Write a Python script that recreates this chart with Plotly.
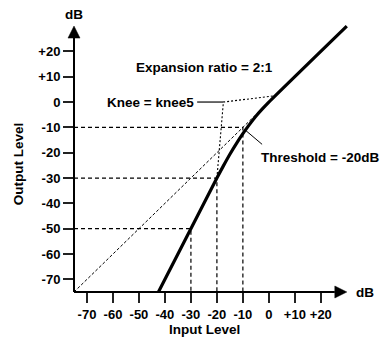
import plotly.graph_objects as go

# Expander transfer curve (input dB -> output dB), soft knee between -20 and 0 dB
curve_in = [-42.5, -20, -17.5, -15, -12.5, -10, -7.5, -5, -2.5, 0, 30]
curve_out = [-75, -30, -25.2, -20.6, -16.4, -12.5, -8.9, -5.6, -2.7, 0, 30]

# Reference (1:1) diagonal
unity_in = [-75, -4]
unity_out = [-75, -4]

# Dashed read-off guides: input level -> output level
guide_in = [-30, -20, -10]
guide_out = [-50, -30, -10]

# Knee marker: corner point and the two knee ends it points to
knee_corner = (-17.5, 0)
knee_lower = (-20, -30)
knee_upper = (2.5, 2.5)
knee_leader_x = [-27.6, -17.5]

# Threshold pointer line
thresh_ptr_x = [-9.4, -2.6]
thresh_ptr_y = [-10.8, -16.7]

tick_vals = [-70, -60, -50, -40, -30, -20, -10, 0, 10, 20]
tick_text = ["-70", "-60", "-50", "-40", "-30", "-20", "-10", "0", "+10", "+20"]

AX_MIN, AX_MAX = -75, 30
XR = [-75, 32]
YR = [-75, 32]

W, H = 388, 343
ML, MB = 74, 51
PLOT_W = (XR[1] - XR[0]) * 2.6
PLOT_H = (YR[1] - YR[0]) * 2.533
MR = W - ML - PLOT_W
MT = H - MB - PLOT_H

FONT = "Liberation Sans, Arial, Helvetica, sans-serif"


def xp(v):
    return (v - XR[0]) / (XR[1] - XR[0])


def yp(v):
    return (v - YR[0]) / (YR[1] - YR[0])


fig = go.Figure()

# unity diagonal
fig.add_trace(go.Scatter(x=unity_in, y=unity_out, mode="lines",
                         line=dict(color="black", width=1, dash="3px,2px"),
                         hoverinfo="skip"))

# read-off guides
for gi, go_ in zip(guide_in, guide_out):
    fig.add_trace(go.Scatter(x=[AX_MIN, gi, gi], y=[go_, go_, AX_MIN], mode="lines",
                             line=dict(color="black", width=1.2, dash="4px,3px"),
                             hoverinfo="skip"))

# knee marker dotted lines
fig.add_trace(go.Scatter(x=[knee_lower[0], knee_corner[0], knee_upper[0]],
                         y=[knee_lower[1], knee_corner[1], knee_upper[1]],
                         mode="lines",
                         line=dict(color="black", width=1.1, dash="2px,2px"),
                         hoverinfo="skip"))

# transfer curve
fig.add_trace(go.Scatter(x=curve_in, y=curve_out, mode="lines",
                         line=dict(color="black", width=3.2, shape="spline", smoothing=0.6),
                         hoverinfo="skip"))

shapes = []
# knee label leader
shapes.append(dict(type="line", xref="x", yref="y",
                   x0=knee_leader_x[0], y0=knee_corner[1],
                   x1=knee_leader_x[1], y1=knee_corner[1],
                   line=dict(color="#444", width=1.6)))
# threshold pointer
shapes.append(dict(type="line", xref="x", yref="y",
                   x0=thresh_ptr_x[0], y0=thresh_ptr_y[0],
                   x1=thresh_ptr_x[1], y1=thresh_ptr_y[1],
                   line=dict(color="black", width=1)))

# axes with arrowheads (paper coordinates so they are not clipped)
arrow_len_x = 12 / PLOT_W
arrow_half_y = 6 / PLOT_H
arrow_len_y = 12 / PLOT_H
arrow_half_x = 6 / PLOT_W
ox, oy = xp(AX_MIN), yp(AX_MIN)
tx, ty = xp(AX_MAX), yp(AX_MAX)
shapes.append(dict(type="line", xref="paper", yref="paper",
                   x0=ox, y0=oy, x1=tx - arrow_len_x, y1=oy,
                   line=dict(color="black", width=2)))
shapes.append(dict(type="line", xref="paper", yref="paper",
                   x0=ox, y0=oy, x1=ox, y1=ty - arrow_len_y,
                   line=dict(color="black", width=2)))
shapes.append(dict(type="path", xref="paper", yref="paper",
                   path=f"M {tx} {oy} L {tx - arrow_len_x} {oy + arrow_half_y} "
                        f"L {tx - arrow_len_x} {oy - arrow_half_y} Z",
                   fillcolor="black", line=dict(color="black", width=0.5)))
shapes.append(dict(type="path", xref="paper", yref="paper",
                   path=f"M {ox} {ty} L {ox - arrow_half_x} {ty - arrow_len_y} "
                        f"L {ox + arrow_half_x} {ty - arrow_len_y} Z",
                   fillcolor="black", line=dict(color="black", width=0.5)))

txt = dict(family=FONT, size=13.5, color="black", weight="bold")
# (x, y, text, xanchor, angle) in data units; placed through paper coords
labels = [
    (AX_MIN, 34.4, "dB", "center", 0),
    (36.9, AX_MIN, "dB", "center", 0),
    (-24.6, 13.8, "Expansion ratio = 2:1", "center", 0),
    (-28.1, 0, "Knee = knee5", "right", 0),
    (-3.9, -22.0, "Threshold = -20dB", "left", 0),
    (-96.5, -24.5, "Output Level", "center", -90),
    (-24.8, -90, "Input Level", "center", 0),
]
annotations = []
for lx, ly, lt, anc, ang in labels:
    annotations.append(dict(x=xp(lx), y=yp(ly), xref="paper", yref="paper",
                            text=lt, xanchor=anc, yanchor="middle",
                            textangle=ang, showarrow=False, font=txt))

axis_common = dict(
    tickmode="array", tickvals=tick_vals, ticktext=tick_text,
    ticks="outside", ticklen=10, tickwidth=1.5, tickcolor="#222",
    showline=False, showgrid=False, zeroline=False, fixedrange=True,
    tickfont=dict(family=FONT, size=13, color="black", weight="bold"),
)

fig.update_layout(
    width=W, height=H,
    margin=dict(l=ML, r=MR, t=MT, b=MB, pad=0),
    paper_bgcolor="white", plot_bgcolor="white",
    showlegend=False,
    xaxis=dict(range=XR, **axis_common),
    yaxis=dict(range=YR, **axis_common),
    shapes=shapes,
    annotations=annotations,
)

fig.write_html("out.html", config={"displayModeBar": False})
